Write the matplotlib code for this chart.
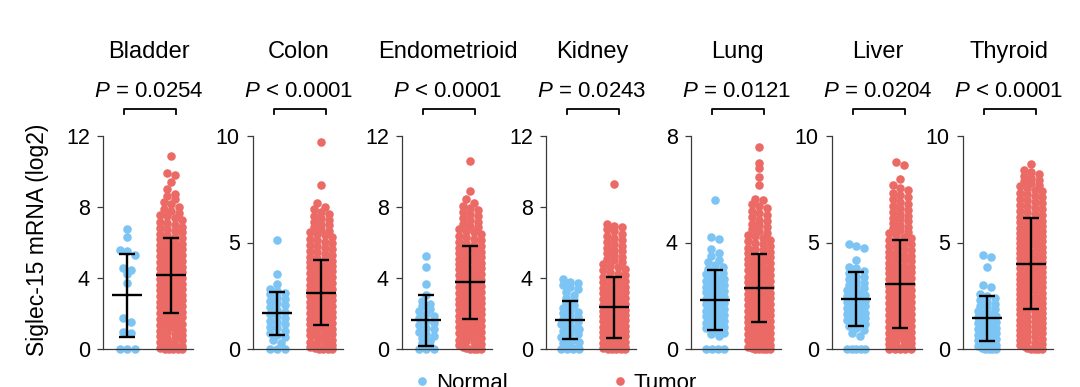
import numpy as np
import matplotlib
matplotlib.use("Agg")
import matplotlib.pyplot as plt
from matplotlib.lines import Line2D

plt.rcParams['font.family'] = 'Liberation Sans'
plt.rcParams['mathtext.fontset'] = 'custom'
plt.rcParams['mathtext.rm'] = 'Liberation Sans'
plt.rcParams['mathtext.it'] = 'Liberation Sans:italic'

# panel info
tissues = ['Bladder', 'Colon', 'Endometrioid', 'Kidney', 'Lung', 'Liver', 'Thyroid']
p_labels = ['$P$ = 0.0254', '$P$ < 0.0001', '$P$ < 0.0001', '$P$ = 0.0243',
            '$P$ = 0.0121', '$P$ = 0.0204', '$P$ < 0.0001']
y_max = [12, 10, 12, 12, 8, 10, 10]
y_ticks = [[0, 4, 8, 12], [0, 5, 10], [0, 4, 8, 12], [0, 4, 8, 12],
           [0, 4, 8], [0, 5, 10], [0, 5, 10]]

# mean and SD as drawn by the error bars
normal_mean = [3.03, 1.67, 1.61, 1.65, 1.85, 2.35, 1.44]
normal_sd = [2.35, 0.99, 1.44, 1.07, 1.12, 1.27, 1.06]
tumor_mean = [4.15, 2.65, 3.76, 2.35, 2.29, 3.05, 4.01]
tumor_sd = [2.12, 1.54, 2.05, 1.73, 1.28, 2.08, 2.13]

# individual samples (log2 expression), estimated from the dot columns
bladder_normal = [0, 0, 0, 0.9, 0.98, 1.5, 1.75, 3.7, 4.2, 4.45, 4.55, 5.3, 5.5, 5.55, 6.3, 6.75]
colon_normal = [0, 0, 0, 0.3, 0.42, 0.55, 0.64, 0.76, 0.85, 0.97, 1.04, 1.16, 1.25, 1.33, 1.46,
                1.55, 1.63, 1.76, 1.84, 1.95, 2.06, 2.14, 2.27, 2.35, 2.44, 2.56, 2.62, 2.7, 2.81,
                3.05, 3.5, 5.1]
endo_normal = [0, 0, 0, 0.15, 0.31, 0.44, 0.6, 0.72, 0.84, 0.97, 1.1, 1.2, 1.36, 1.45, 1.58,
               1.72, 1.84, 1.96, 2.12, 2.24, 2.41, 2.55, 2.7, 3.05, 3.65, 4.6, 5.25]
kidney_normal = [0, 0, 0, 0, 0.12, 0.2, 0.31, 0.42, 0.5, 0.61, 0.7, 0.82, 0.9, 1.01, 1.12, 1.2,
                 1.31, 1.4, 1.52, 1.6, 1.71, 1.8, 1.92, 2.01, 2.1, 2.22, 2.3, 2.46, 2.6, 2.74,
                 2.9, 3.06, 3.2, 3.36, 3.5, 3.6, 3.72, 3.8, 3.95]
lung_normal = [0, 0, 0, 0, 0.5, 0.56, 0.61, 0.67, 0.73, 0.78, 0.83, 0.87, 0.93, 0.98, 1.04, 1.08,
               1.13, 1.19, 1.23, 1.28, 1.34, 1.38, 1.43, 1.49, 1.53, 1.58, 1.64, 1.68, 1.73,
               1.79, 1.83, 1.88, 1.94, 1.98, 2.03, 2.09, 2.13, 2.18, 2.24, 2.28, 2.33, 2.39,
               2.44, 2.5, 2.57, 2.62, 2.68, 2.75, 2.8, 2.87, 2.94, 3.02, 3.08, 3.16, 3.25, 3.35,
               3.5, 3.6, 3.75, 4.15, 4.2, 5.6]
liver_normal = [0, 0, 0, 0, 0, 0.6, 0.75, 0.9, 1.0, 1.08, 1.16, 1.22, 1.3, 1.38, 1.44, 1.5, 1.58,
                1.64, 1.71, 1.79, 1.85, 1.92, 2.0, 2.06, 2.13, 2.21, 2.27, 2.34, 2.42, 2.48,
                2.55, 2.63, 2.7, 2.78, 2.87, 2.94, 3.02, 3.11, 3.18, 3.27, 3.37, 3.45, 3.55,
                3.66, 3.8, 3.85, 4.2, 4.75, 4.85, 4.95]
thyroid_normal = [0, 0, 0, 0, 0.07, 0.15, 0.2, 0.27, 0.35, 0.4, 0.47, 0.55, 0.6, 0.67, 0.75,
                  0.8, 0.88, 0.94, 1.0, 1.08, 1.14, 1.2, 1.28, 1.34, 1.42, 1.48, 1.55, 1.63, 1.7,
                  1.78, 1.86, 1.95, 2.02, 2.11, 2.2, 2.3, 2.41, 2.5, 2.6, 2.9, 3.0, 3.85, 4.3, 4.4]

bladder_tumor = [0, 0, 0, 0, 0, 0.08, 0.15, 0.19, 0.27, 0.36, 0.41, 0.5, 0.58, 0.62, 0.71, 0.8,
                 0.84, 0.93, 1.01, 1.07, 1.15, 1.22, 1.3, 1.34, 1.43, 1.52, 1.58, 1.66, 1.71,
                 1.8, 1.88, 1.93, 2.01, 2.09, 2.14, 2.2, 2.28, 2.35, 2.4, 2.47, 2.55, 2.61, 2.66,
                 2.74, 2.81, 2.87, 2.93, 3.0, 3.06, 3.13, 3.18, 3.25, 3.31, 3.38, 3.44, 3.5,
                 3.57, 3.62, 3.69, 3.75, 3.82, 3.88, 3.93, 4.0, 4.06, 4.13, 4.19, 4.25, 4.32,
                 4.38, 4.44, 4.51, 4.57, 4.63, 4.7, 4.76, 4.83, 4.89, 4.95, 5.02, 5.09, 5.15,
                 5.22, 5.28, 5.35, 5.43, 5.5, 5.56, 5.63, 5.71, 5.78, 5.86, 5.93, 6.0, 6.09,
                 6.17, 6.24, 6.33, 6.4, 6.49, 6.58, 6.65, 6.74, 6.83, 6.9, 7.0, 7.09, 7.17, 7.28,
                 7.36, 7.47, 7.56, 7.68, 7.77, 7.9, 8.02, 8.15, 8.3, 8.44, 8.6, 8.72, 9.0, 9.4,
                 9.8, 9.9, 10.9]
colon_tumor = [0, 0, 0, 0, 0.05, 0.1, 0.17, 0.23, 0.28, 0.35, 0.41, 0.46, 0.53, 0.59, 0.64, 0.7,
               0.77, 0.82, 0.88, 0.93, 0.99, 1.05, 1.1, 1.16, 1.21, 1.27, 1.32, 1.37, 1.43, 1.48,
               1.54, 1.59, 1.64, 1.7, 1.75, 1.8, 1.86, 1.91, 1.96, 2.02, 2.07, 2.12, 2.17, 2.23,
               2.28, 2.33, 2.38, 2.44, 2.49, 2.54, 2.6, 2.65, 2.7, 2.75, 2.81, 2.86, 2.91, 2.97,
               3.02, 3.08, 3.13, 3.19, 3.24, 3.3, 3.36, 3.41, 3.47, 3.53, 3.59, 3.65, 3.71,
               3.77, 3.83, 3.89, 3.95, 4.02, 4.08, 4.14, 4.21, 4.27, 4.34, 4.41, 4.47, 4.54,
               4.61, 4.68, 4.75, 4.82, 4.89, 4.96, 5.03, 5.1, 5.18, 5.25, 5.33, 5.4, 5.48,
               5.56, 5.64, 5.72, 5.8, 5.89, 5.97, 6.06, 6.15, 6.24, 6.34, 6.44, 6.55, 6.65,
               6.85, 7.7, 9.7]
endo_tumor = [0, 0, 0, 0, 0.07, 0.14, 0.22, 0.3, 0.37, 0.45, 0.52, 0.6, 0.66, 0.74, 0.8, 0.88,
              0.95, 1.02, 1.09, 1.16, 1.22, 1.29, 1.36, 1.42, 1.49, 1.56, 1.62, 1.69, 1.75, 1.82,
              1.88, 1.95, 2.01, 2.08, 2.14, 2.2, 2.27, 2.33, 2.4, 2.46, 2.52, 2.59, 2.65, 2.71,
              2.78, 2.84, 2.9, 2.97, 3.03, 3.1, 3.16, 3.22, 3.29, 3.35, 3.42, 3.48, 3.55, 3.61,
              3.68, 3.74, 3.81, 3.88, 3.94, 4.01, 4.08, 4.15, 4.22, 4.29, 4.36, 4.43, 4.5, 4.57,
              4.64, 4.71, 4.79, 4.86, 4.93, 5.01, 5.08, 5.16, 5.24, 5.31, 5.39, 5.47, 5.55,
              5.63, 5.71, 5.79, 5.88, 5.96, 6.04, 6.13, 6.22, 6.3, 6.39, 6.48, 6.57, 6.66,
              6.76, 6.85, 6.95, 7.05, 7.15, 7.26, 7.36, 7.47, 7.58, 7.7, 7.82, 7.95, 8.08, 8.2,
              8.45, 8.9, 10.6]
kidney_tumor = [0, 0, 0, 0, 0, 0.06, 0.12, 0.18, 0.24, 0.3, 0.36, 0.42, 0.48, 0.54, 0.6, 0.65,
                0.71, 0.77, 0.83, 0.89, 0.95, 1.01, 1.07, 1.13, 1.19, 1.25, 1.31, 1.37, 1.43,
                1.49, 1.55, 1.61, 1.67, 1.73, 1.79, 1.85, 1.91, 1.97, 2.03, 2.09, 2.16, 2.22,
                2.28, 2.35, 2.41, 2.47, 2.54, 2.6, 2.67, 2.73, 2.8, 2.87, 2.94, 3.01, 3.08, 3.15,
                3.22, 3.3, 3.37, 3.45, 3.52, 3.6, 3.68, 3.76, 3.84, 3.92, 4.0, 4.08, 4.17, 4.25,
                4.34, 4.43, 4.52, 4.61, 4.7, 4.8, 4.89, 4.99, 5.09, 5.19, 5.29, 5.39, 5.5, 5.6,
                5.71, 5.82, 5.93, 6.04, 6.15, 6.27, 6.38, 6.5, 6.62, 6.75, 6.88, 6.95, 7.05, 9.3]
lung_tumor = [0, 0, 0, 0, 0, 0.05, 0.09, 0.14, 0.19, 0.23, 0.28, 0.33, 0.37, 0.42, 0.47, 0.51,
              0.56, 0.6, 0.65, 0.69, 0.74, 0.78, 0.83, 0.87, 0.92, 0.96, 1.0, 1.05, 1.09, 1.13,
              1.18, 1.22, 1.26, 1.31, 1.35, 1.39, 1.43, 1.48, 1.52, 1.56, 1.6, 1.65, 1.69, 1.73,
              1.77, 1.82, 1.86, 1.9, 1.94, 1.99, 2.03, 2.07, 2.11, 2.16, 2.2, 2.24, 2.28, 2.33,
              2.37, 2.41, 2.46, 2.5, 2.54, 2.59, 2.63, 2.68, 2.72, 2.77, 2.81, 2.86, 2.9, 2.95,
              3.0, 3.04, 3.09, 3.14, 3.19, 3.24, 3.29, 3.34, 3.39, 3.44, 3.49, 3.54, 3.6, 3.65,
              3.7, 3.76, 3.81, 3.87, 3.93, 3.99, 4.05, 4.11, 4.17, 4.23, 4.3, 4.36, 4.43, 4.5,
              4.57, 4.64, 4.71, 4.79, 4.86, 4.94, 5.02, 5.1, 5.19, 5.28, 5.37, 5.45, 5.6, 5.65,
              6.15, 6.45, 6.8, 7.0, 7.6]
liver_tumor = [0, 0, 0, 0, 0, 0.06, 0.12, 0.18, 0.24, 0.3, 0.36, 0.42, 0.48, 0.53, 0.59, 0.65,
               0.71, 0.76, 0.82, 0.88, 0.93, 0.99, 1.05, 1.1, 1.16, 1.21, 1.27, 1.33, 1.38, 1.44,
               1.49, 1.55, 1.6, 1.66, 1.71, 1.77, 1.82, 1.88, 1.93, 1.99, 2.04, 2.1, 2.15, 2.21,
               2.26, 2.32, 2.37, 2.43, 2.48, 2.54, 2.59, 2.65, 2.7, 2.76, 2.82, 2.87, 2.93, 2.98,
               3.04, 3.1, 3.15, 3.21, 3.27, 3.33, 3.38, 3.44, 3.5, 3.56, 3.62, 3.68, 3.74, 3.8,
               3.86, 3.92, 3.98, 4.05, 4.11, 4.17, 4.24, 4.3, 4.37, 4.43, 4.5, 4.57, 4.64, 4.71,
               4.78, 4.85, 4.92, 4.99, 5.06, 5.13, 5.21, 5.28, 5.36, 5.43, 5.51, 5.59, 5.67,
               5.75, 5.83, 5.91, 6.0, 6.08, 6.17, 6.26, 6.35, 6.44, 6.53, 6.62, 6.72, 6.82,
               6.92, 7.02, 7.12, 7.23, 7.34, 7.45, 7.56, 7.68, 8.0, 8.65, 8.8]
thyroid_tumor = [0, 0, 0, 0, 0.06, 0.13, 0.18, 0.25, 0.3, 0.37, 0.42, 0.49, 0.54, 0.61, 0.66,
                 0.73, 0.78, 0.85, 0.9, 0.97, 1.02, 1.09, 1.14, 1.21, 1.26, 1.33, 1.38, 1.45,
                 1.5, 1.57, 1.62, 1.69, 1.74, 1.81, 1.86, 1.93, 1.98, 2.05, 2.1, 2.17, 2.22,
                 2.29, 2.34, 2.41, 2.46, 2.53, 2.58, 2.65, 2.7, 2.77, 2.82, 2.89, 2.94, 3.01,
                 3.06, 3.13, 3.18, 3.25, 3.3, 3.37, 3.42, 3.49, 3.54, 3.61, 3.66, 3.73, 3.78,
                 3.85, 3.9, 3.97, 4.02, 4.09, 4.14, 4.21, 4.26, 4.33, 4.38, 4.45, 4.5, 4.57,
                 4.62, 4.69, 4.74, 4.81, 4.86, 4.93, 4.98, 5.05, 5.1, 5.17, 5.22, 5.29, 5.34,
                 5.41, 5.46, 5.53, 5.58, 5.65, 5.7, 5.77, 5.82, 5.89, 5.94, 6.01, 6.07, 6.15,
                 6.21, 6.29, 6.35, 6.43, 6.49, 6.57, 6.63, 6.71, 6.77, 6.85, 6.91, 6.99, 7.05,
                 7.13, 7.19, 7.27, 7.33, 7.41, 7.48, 7.56, 7.63, 7.71, 7.78, 7.87, 7.95, 8.04,
                 8.13, 8.22, 8.32, 8.42, 8.7]

normal_data = [bladder_normal, colon_normal, endo_normal, kidney_normal,
               lung_normal, liver_normal, thyroid_normal]
tumor_data = [bladder_tumor, colon_tumor, endo_tumor, kidney_tumor,
              lung_tumor, liver_tumor, thyroid_tumor]

BLUE = '#7cc4f3'
RED = '#ec6a66'
W, H = 1080, 387
ax_left_px = [103, 253, 402, 546, 691, 832, 963]
ax_w_px, ax_top_px, ax_bot_px = 90, 136, 349
dot_px = 8.5


def scatter_x(values, center, row_h, max_half):
    # Prism-like column: points that sit on the same row are spread sideways
    vals = np.sort(np.asarray(values, float))[::-1]
    xs = np.empty_like(vals)
    i = 0
    while i < len(vals):
        j = i
        while j < len(vals) and vals[i] - vals[j] < row_h:
            j += 1
        n = j - i
        half = min(0.085 * (n - 1), max_half)
        xs[i:j] = center + np.linspace(-half, half, n)
        i = j
    return xs, vals


def error_bar(ax, x, m, s):
    kw = dict(color='black', lw=1.7, zorder=4, solid_capstyle='butt')
    ax.plot([x, x], [m - s, m + s], **kw)
    ax.plot([x - 0.34, x + 0.34], [m, m], **kw)
    ax.plot([x - 0.19, x + 0.19], [m + s, m + s], **kw)
    ax.plot([x - 0.19, x + 0.19], [m - s, m - s], **kw)


fig = plt.figure(figsize=(W / 100, H / 100), dpi=100)

for i, name in enumerate(tissues):
    ax = fig.add_axes([ax_left_px[i] / W, 1 - ax_bot_px / H,
                       ax_w_px / W, (ax_bot_px - ax_top_px) / H])
    ymax = y_max[i]
    row_h = 0.6 * dot_px * ymax / (ax_bot_px - ax_top_px)

    for k, (vals, col, mh) in enumerate([(normal_data[i], BLUE, 0.2),
                                         (tumor_data[i], RED, 0.245)]):
        xs, ys = scatter_x(vals, k, row_h, mh)
        ax.scatter(xs, ys, s=38, color=col, linewidths=0, zorder=2, clip_on=False)

    error_bar(ax, 0, normal_mean[i], normal_sd[i])
    error_bar(ax, 1, tumor_mean[i], tumor_sd[i])

    ax.set_xlim(-0.55, 1.5)
    ax.set_ylim(0, ymax)
    ax.set_yticks(y_ticks[i])
    ax.set_xticks([])
    ax.spines['top'].set_visible(False)
    ax.spines['right'].set_visible(False)
    for sp in ['left', 'bottom']:
        ax.spines[sp].set_color('#3a3a3a')
        ax.spines[sp].set_linewidth(0.9)
    ax.tick_params(axis='y', length=4.5, width=0.9, color='#3a3a3a',
                   labelsize=15.5, pad=5)

    tr = ax.get_xaxis_transform()
    ax.text(0.5, 1.394, name, transform=tr, ha='center', va='center', fontsize=17)
    ax.text(0.5, 1.207, p_labels[i], transform=tr, ha='center', va='center', fontsize=16)
    ax.plot([-0.07, -0.07, 1.12, 1.12], [1.103, 1.127, 1.127, 1.103], transform=tr,
            color='black', lw=1.3, clip_on=False)

fig.text(38 / W, 1 - 240 / H, 'Siglec-15 mRNA (log2)', rotation=90,
         ha='center', va='center', fontsize=16.5)

# legend along the bottom edge (cut by the figure edge, as in the source)
for x_px, col, lab in [(422, BLUE, 'Normal'), (620, RED, 'Tumor')]:
    fig.add_artist(Line2D([x_px / W], [1 - 381 / H], marker='o', markersize=6.2,
                          color=col, markeredgewidth=0, linestyle='none'))
    fig.text((x_px + 14) / W, 1 - 389 / H, lab, ha='left', va='baseline', fontsize=16)

fig.savefig('out.png', dpi=100)
